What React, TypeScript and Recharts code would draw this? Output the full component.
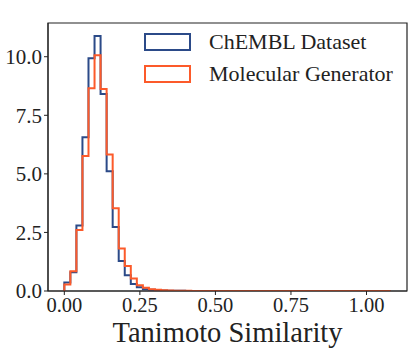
import React from 'react';
import { LineChart, Line, XAxis, YAxis, ReferenceArea } from 'recharts';

const BIN_WIDTH = 0.02;
const X_TICKS = [0, 0.25, 0.5, 0.75, 1.0];
const Y_TICKS = [0, 2.5, 5.0, 7.5, 10.0];

// histogram densities per 0.02-wide bin, 0.00 .. 1.08
const chemblValues = [
    0.36, 0.8, 2.8, 6.56, 9.93, 10.88, 8.41, 5.11, 2.73, 1.28, 0.67, 0.3, 0.16, 0.08, 0.05, 0.03, 0.02, 0.015,
    0.01, 0.01, 0.005, 0.005, 0, 0, 0, 0, 0, 0, 0, 0, 0, 0, 0, 0, 0, 0, 0, 0, 0, 0, 0, 0, 0, 0, 0, 0, 0, 0, 0, 0,
    0, 0, 0, 0,
];
const generatorValues = [
    0.28, 0.84, 2.6, 5.76, 8.66, 10.06, 8.62, 5.83, 3.53, 1.81, 1.07, 0.53, 0.25, 0.14, 0.08, 0.05, 0.03, 0.02,
    0.015, 0.01, 0.01, 0.005, 0.005, 0, 0, 0, 0, 0, 0, 0, 0, 0, 0, 0, 0, 0, 0, 0, 0, 0, 0, 0, 0, 0, 0, 0, 0, 0, 0,
    0, 0, 0, 0, 0,
];
const seriesNames = ['ChEMBL Dataset', 'Molecular Generator'];

const BLUE = '#2b4a88';
const RED = '#fc5a2a';
const FONT = '"Liberation Serif", "DejaVu Serif", serif';

// step outline: start at (0,0), one point per bin edge, drop back to 0 at the end
const buildRows = () => {
    const rows = [{ x: 0, chembl: 0, gen: 0 }];
    chemblValues.forEach((v, i) => {
        rows.push({ x: i * BIN_WIDTH, chembl: v, gen: generatorValues[i] });
    });
    const last = chemblValues.length;
    rows.push({ x: last * BIN_WIDTH, chembl: chemblValues[last - 1], gen: generatorValues[last - 1] });
    rows.push({ x: last * BIN_WIDTH, chembl: 0, gen: 0 });
    return rows;
};

const data = buildRows();

const LegendBox = () => (
    <svg width={260} height={60} style={{ position: 'absolute', left: 144, top: 33, overflow: 'visible' }}>
        {[BLUE, RED].map((c, i) => (
            <g key={c}>
                <rect x={1} y={1 + i * 32} width={45} height={16} fill="none" stroke={c} strokeWidth={2} />
                <text x={65} y={16 + i * 32} fontFamily={FONT} fontSize={22} fill="#222">
                    {seriesNames[i]}
                </text>
            </g>
        ))}
    </svg>
);

const App: React.FC = () => {
    return (
        <div style={{ position: 'fixed', left: 0, top: 0, width: 415, height: 351, background: '#fff' }}>
            <LineChart width={415} height={351} data={data} margin={{ top: 23, right: 8, bottom: 0, left: 0 }}>
                <XAxis
                    dataKey="x"
                    type="number"
                    domain={[-0.054, 1.134]}
                    ticks={X_TICKS}
                    tickFormatter={(v: number) => v.toFixed(2)}
                    allowDataOverflow
                    height={60}
                    tickSize={4}
                    tickMargin={2}
                    stroke="#222"
                    tick={{ fontFamily: FONT, fontSize: 20.5, fill: '#222' }}
                    label={{
                        value: 'Tanimoto Similarity',
                        position: 'insideBottom',
                        offset: 9,
                        style: { fontFamily: FONT, fontSize: 28.5, fill: '#222' },
                    }}
                />
                <YAxis
                    type="number"
                    domain={[0, 11.44]}
                    ticks={Y_TICKS}
                    tickFormatter={(v: number) => v.toFixed(1)}
                    allowDataOverflow
                    width={48}
                    tickSize={4}
                    tickMargin={2}
                    stroke="#222"
                    tick={{ fontFamily: FONT, fontSize: 21, fill: '#222' }}
                />
                <ReferenceArea
                    x1={-0.054}
                    x2={1.134}
                    y1={0}
                    y2={11.44}
                    fill="none"
                    stroke="#222"
                    strokeWidth={1.2}
                    ifOverflow="visible"
                />
                <Line
                    dataKey="chembl"
                    type="stepAfter"
                    stroke={BLUE}
                    strokeWidth={2}
                    dot={false}
                    isAnimationActive={false}
                />
                <Line
                    dataKey="gen"
                    type="stepAfter"
                    stroke={RED}
                    strokeWidth={2}
                    dot={false}
                    isAnimationActive={false}
                />
            </LineChart>
            <LegendBox />
        </div>
    );
};

export default App;
